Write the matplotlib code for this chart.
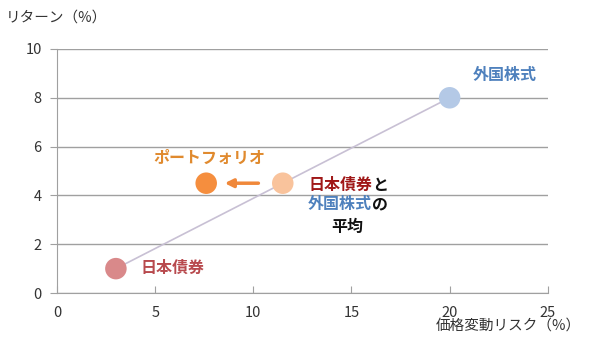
import matplotlib
matplotlib.use("Agg")
import matplotlib.pyplot as plt

plt.rcParams['font.family'] = ['Noto Sans CJK JP', 'DejaVu Sans']

# Data
assets = ["日本債券", "外国株式"]
risk = [3.0, 20.0]
ret = [1.0, 8.0]
avg_risk, avg_ret = 11.5, 4.5
port_risk, port_ret = 7.6, 4.5
x_ticks = [0, 5, 10, 15, 20, 25]
y_ticks = [0, 2, 4, 6, 8, 10]

fig = plt.figure(figsize=(6, 3.6), dpi=100)
ax = fig.add_axes([0.095, 0.186, 0.818, 0.678])
ax.set_xlim(0, 25)
ax.set_ylim(0, 10)
ax.set_xticks(x_ticks)
ax.set_yticks(y_ticks)
ax.yaxis.grid(True, color='#a0a0a0', linewidth=1.0)
ax.set_axisbelow(True)
for s in ['top', 'right']:
    ax.spines[s].set_visible(False)
for s in ['left', 'bottom']:
    ax.spines[s].set_color('#a0a0a0')
ax.tick_params(axis='x', direction='in', length=5, color='#a0a0a0', labelsize=10.5, pad=9, labelcolor='#333333')
ax.tick_params(axis='y', direction='out', length=5, color='#a0a0a0', labelsize=10.5, pad=6, labelcolor='#333333')

# connecting line
ax.plot(risk, ret, color='#c8c0d4', linewidth=1.2, zorder=2)

# markers
ax.scatter([risk[0]], [ret[0]], s=240, color='#d9898a', zorder=3, edgecolors='none')
ax.scatter([risk[1]], [ret[1]], s=240, color='#b4c9e6', zorder=3, edgecolors='none')
ax.scatter([avg_risk], [avg_ret], s=240, color='#f9c39c', zorder=3, edgecolors='none')
ax.scatter([port_risk], [port_ret], s=240, color='#f58e3e', zorder=3, edgecolors='none')

# arrow
ax.annotate('', xy=(8.4, 4.5), xytext=(10.4, 4.5),
            arrowprops=dict(arrowstyle='-|>', color='#f0883a', lw=2.5, mutation_scale=12), zorder=3)

fs = 11.5
# labels
ax.text(22.8, 8.93, "外国株式", color='#4f81bd', fontsize=fs, fontweight='bold', ha='center', va='center')
ax.text(4.25, 1.02, "日本債券", color='#b84a4e', fontsize=fs, fontweight='bold', ha='left', va='center')
ax.text(7.74, 5.53, "ポートフォリオ", color='#e08a2e', fontsize=fs, fontweight='bold', ha='center', va='center')
ax.text(16.05, 4.43, "日本債券", color='#a01818', fontsize=fs, fontweight='bold', ha='right', va='center')
ax.text(16.05, 4.43, "と", color='#111111', fontsize=fs, fontweight='bold', ha='left', va='center')
ax.text(16.05, 3.65, "外国株式", color='#4f81bd', fontsize=fs, fontweight='bold', ha='right', va='center')
ax.text(16.05, 3.65, "の", color='#111111', fontsize=fs, fontweight='bold', ha='left', va='center')
ax.text(14.8, 2.70, "平均", color='#111111', fontsize=fs, fontweight='bold', ha='center', va='center')

fig.text(0.01, 0.95, "リターン（%）", fontsize=10.5, color='#333333', ha='left', va='center')
fig.text(0.968, 0.095, "価格変動リスク（%）", fontsize=10.5, color='#333333', ha='right', va='center')

fig.savefig("out.png", dpi=100)
